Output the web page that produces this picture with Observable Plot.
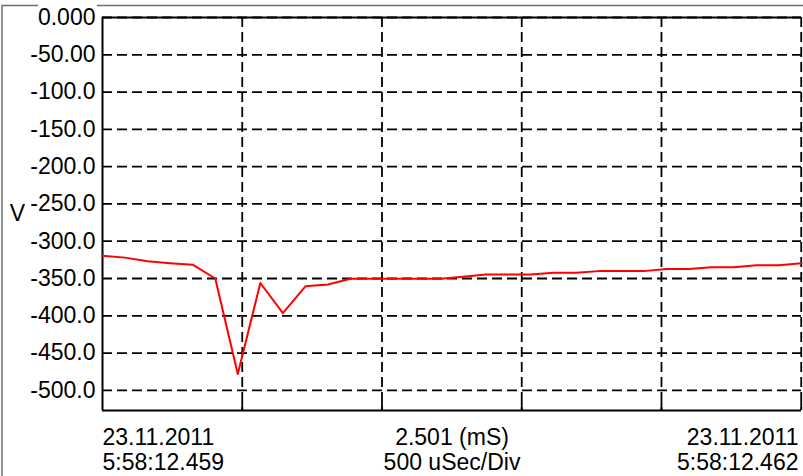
<!DOCTYPE html>
<html>
<head>
<meta charset="utf-8">
<script src="https://cdn.jsdelivr.net/npm/d3@7"></script>
<script src="https://cdn.jsdelivr.net/npm/@observablehq/plot@0.6"></script>
<style>
html, body { margin: 0; padding: 0; background: #fff; }
</style>
</head>
<body>
<div id="chart"></div>
<script>
// Sampled voltage values (V), equally spaced over the 2.501 ms span
const voltageV = [
  -319.5, -322.0, -327.0, -329.5, -331.5, -350.0, -478.0, -356.0,
  -396.5, -360.5, -358.0, -350.3, -350.3, -350.3, -350.3, -350.3,
  -347.5, -344.6, -344.6, -344.6, -342.3, -342.3, -340.1, -340.1,
  -340.1, -337.4, -337.4, -334.8, -334.8, -332.1, -332.1, -329.4
];
const spanMs = 2.501;
const yDomain = [-527, 0];
const yTicks = [0, -50, -100, -150, -200, -250, -300, -350, -400, -450, -500];
const yTickLabels = ["0.000", "-50.00", "-100.0", "-150.0", "-200.0", "-250.0",
                     "-300.0", "-350.0", "-400.0", "-450.0", "-500.0"];
const xGridMs = [0.5, 1.0, 1.5, 2.0, 2.5];
const yLabel = "V";
const leftLabel = ["23.11.2011", "5:58:12.459"];
const centerLabel = ["2.501 (mS)", "500 uSec/Div"];
const rightLabel = ["23.11.2011", "5:58:12.462"];

const stepMs = spanMs / (voltageV.length - 1);
const data = voltageV.map((v, i) => ({t: i * stepMs, v}));
const labelOf = new Map(yTicks.map((t, i) => [t, yTickLabels[i]]));

const W = 803, H = 476, mL = 102, mR = 2, mT = 17, mB = 66;
const plotH = H - mT - mB;
const font = '"Liberation Sans", Arial, sans-serif';
const fs = 23;
const dash = "10,5";

const chart = Plot.plot({
  width: W, height: H,
  marginLeft: mL, marginRight: mR, marginTop: mT, marginBottom: mB,
  style: {fontFamily: font, fontSize: fs + "px", background: "#fff", color: "#000", overflow: "visible"},
  x: {domain: [0, spanMs], axis: null},
  y: {domain: yDomain},
  marks: [
    Plot.gridY(yTicks, {stroke: "#000", strokeOpacity: 1, strokeWidth: 1.8, strokeDasharray: dash}),
    Plot.gridX(xGridMs, {stroke: "#000", strokeOpacity: 1, strokeWidth: 1.8, strokeDasharray: dash}),
    Plot.ruleX(xGridMs, {stroke: "#000", strokeWidth: 1.8, insetTop: plotH - 8}),
    Plot.ruleX([0], {stroke: "#000", strokeWidth: 2}),
    Plot.ruleY([yDomain[0]], {stroke: "#000", strokeWidth: 2}),
    Plot.ruleY([0], {stroke: "#000", strokeWidth: 1.8}),
    Plot.axisY(yTicks, {tickSize: 0, tickPadding: 7, tickFormat: d => labelOf.get(d), fontSize: fs, label: null}),
    Plot.line(data, {x: "t", y: "v", stroke: "#ff0000", strokeWidth: 2}),
    Plot.text([yLabel], {frameAnchor: "left", dx: -85, textAnchor: "middle", fontSize: fs}),
    Plot.text([leftLabel.join("\n")], {frameAnchor: "bottom-left", textAnchor: "start", lineAnchor: "top", dy: 17, lineHeight: 1.09, fontSize: fs}),
    Plot.text([centerLabel.join("\n")], {frameAnchor: "bottom", textAnchor: "middle", lineAnchor: "top", dy: 17, lineHeight: 1.09, fontSize: fs}),
    Plot.text([rightLabel.join("\n")], {frameAnchor: "bottom-right", textAnchor: "end", lineAnchor: "top", dy: 17, dx: -3, lineHeight: 1.09, fontSize: fs})
  ]
});

d3.select(chart).append("path")
  .attr("d", "M2,476V5.5H38M97,5.5H803")
  .attr("fill", "none")
  .attr("stroke", "#6e6e6e")
  .attr("stroke-width", 1.5);

document.getElementById("chart").appendChild(chart);
</script>
</body>
</html>
